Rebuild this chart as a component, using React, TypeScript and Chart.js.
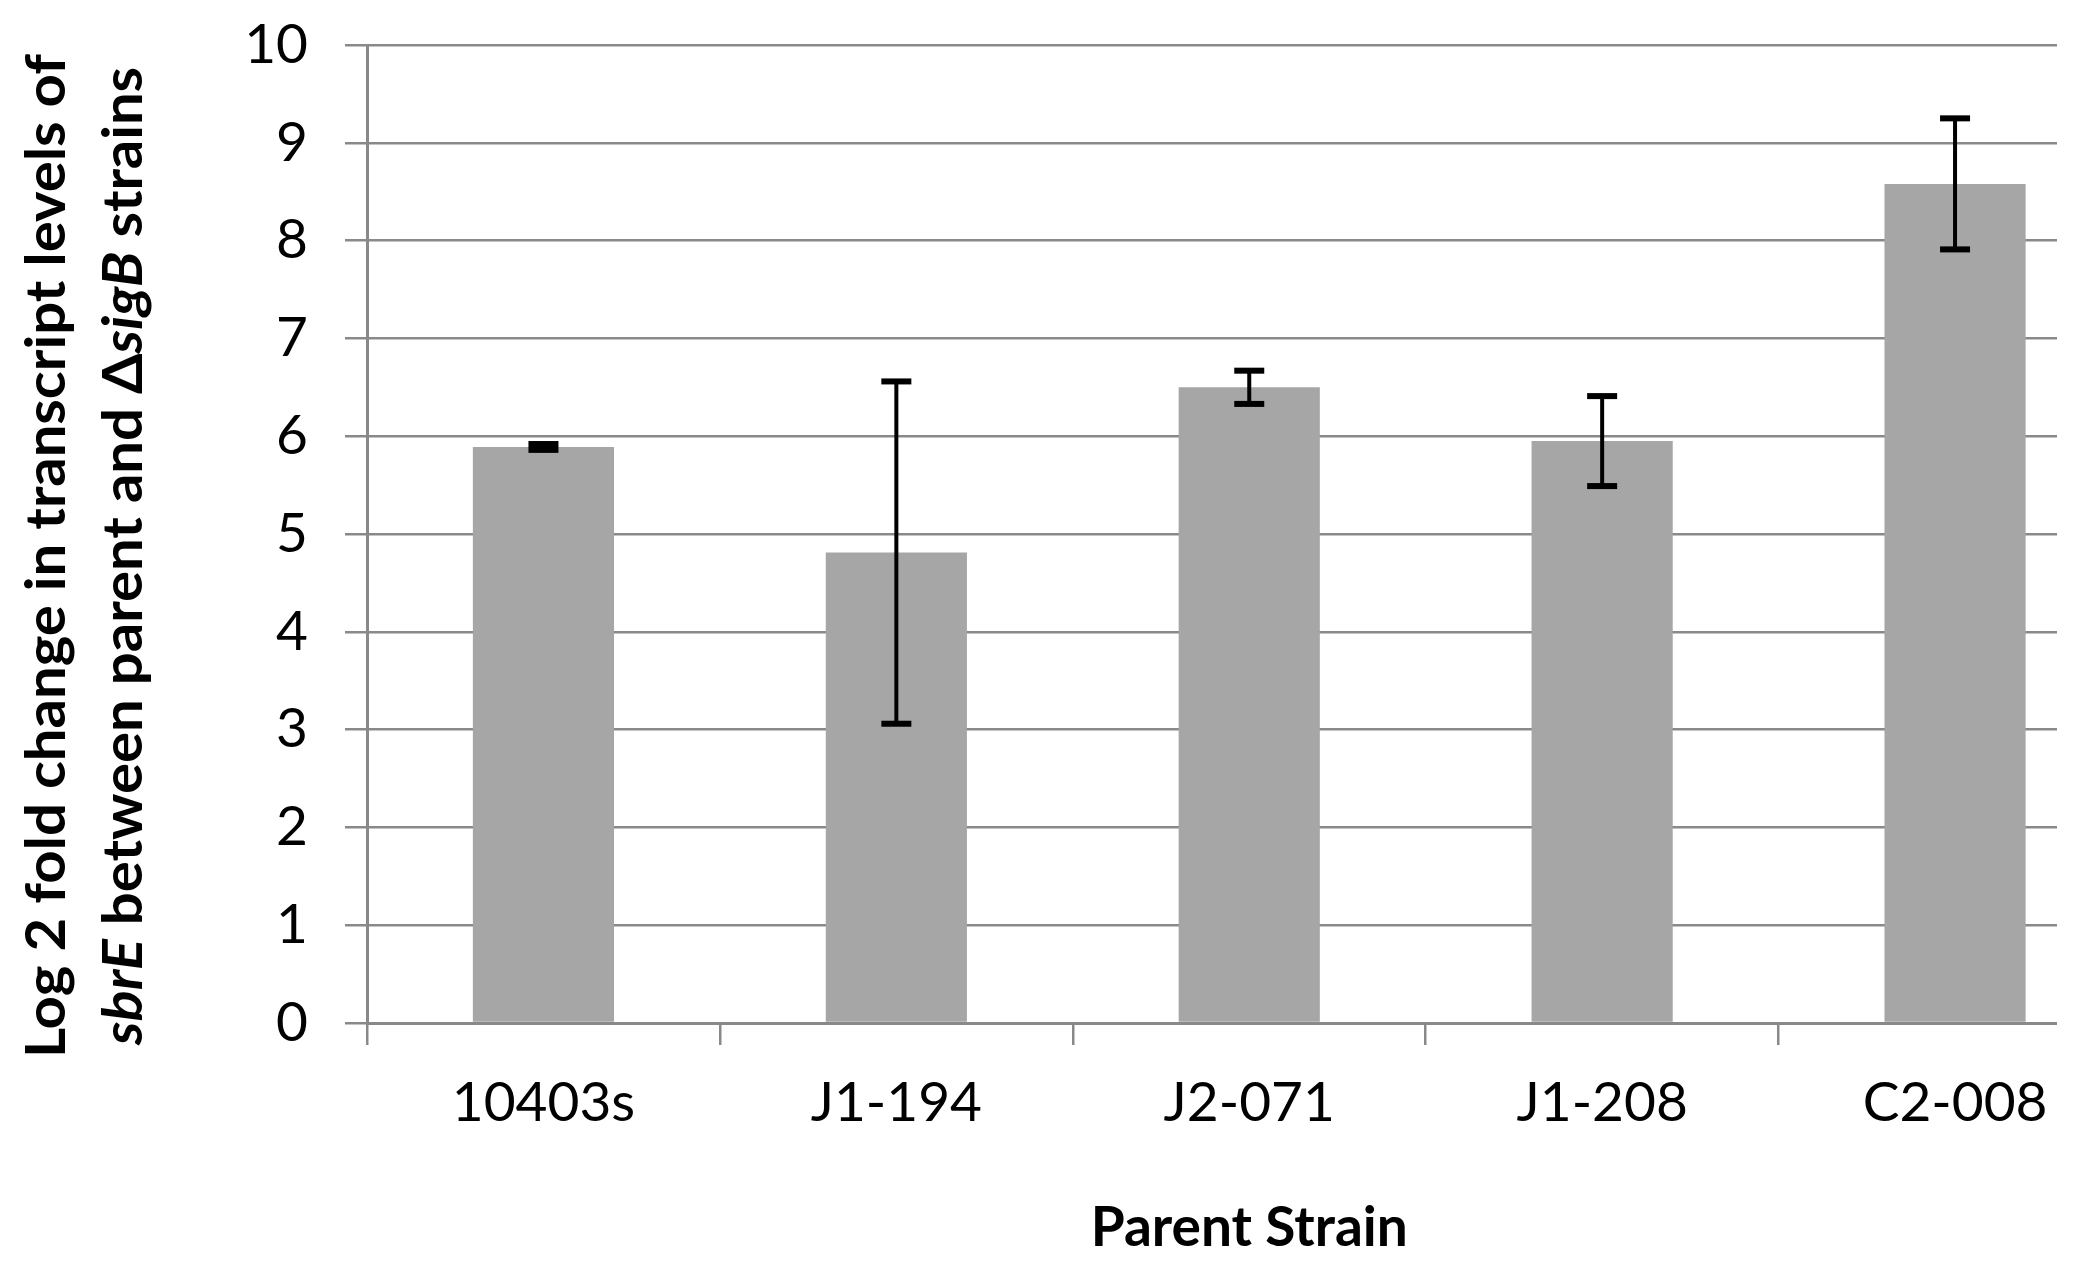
import { useEffect, useRef } from "react";
import { Chart, registerables } from "chart.js";

Chart.register(...registerables);

// ---- data ----
const strains = ["10403s", "J1-194", "J2-071", "J1-208", "C2-008"];
const log2FoldChange = [5.89, 4.81, 6.5, 5.95, 8.58];
const errorValues = [0.03, 1.75, 0.17, 0.46, 0.67];
const yAxisMin = 0;
const yAxisMax = 10;
const yAxisStep = 1;
const xAxisTitle = "Parent Strain";
const yTitleLine1 = [{ text: "Log 2 fold change in transcript levels of", italic: false }];
const yTitleLine2 = [
  { text: "sbrE", italic: true },
  { text: " between parent and \u0394", italic: false },
  { text: "sigB", italic: true },
  { text: " strains", italic: false },
];

const FONT = "Lato, 'Open Sans', 'Noto Sans', sans-serif";
const GRID = "#898989";

const errorBarPlugin = {
  id: "errorBars",
  afterDatasetsDraw(chart: any) {
    const ctx = chart.ctx;
    const meta = chart.getDatasetMeta(0);
    const y = chart.scales.y;
    ctx.save();
    ctx.strokeStyle = "#000";
    ctx.fillStyle = "#000";
    meta.data.forEach((bar: any, i: number) => {
      const v = log2FoldChange[i];
      const e = errorValues[i];
      const yTop = y.getPixelForValue(v + e);
      const yBot = y.getPixelForValue(v - e);
      const x = bar.x;
      ctx.lineWidth = 4;
      ctx.beginPath();
      ctx.moveTo(x, yTop);
      ctx.lineTo(x, yBot);
      ctx.stroke();
      ctx.fillRect(x - 15, yTop - 3, 30, 6);
      ctx.fillRect(x - 15, yBot - 3, 30, 6);
    });
    ctx.restore();
  },
};

const yTitlePlugin = {
  id: "yTitleMixed",
  afterDraw(chart: any) {
    const ctx = chart.ctx;
    const size = 55;
    const fontFor = (italic: boolean) => `${italic ? "italic " : ""}bold ${size}px ${FONT}`;
    const widthOf = (segs: { text: string; italic: boolean }[]) =>
      segs.reduce((acc, s) => {
        ctx.font = fontFor(s.italic);
        return acc + ctx.measureText(s.text).width;
      }, 0);
    ctx.save();
    const w1 = widthOf(yTitleLine1);
    const sx = 1004 / w1;
    const centerY = 556;
    const drawLine = (segs: { text: string; italic: boolean }[], baseX: number) => {
      const total = widthOf(segs);
      ctx.save();
      ctx.translate(baseX, centerY);
      ctx.rotate(-Math.PI / 2);
      ctx.scale(sx, 1);
      ctx.fillStyle = "#000";
      ctx.textBaseline = "alphabetic";
      ctx.textAlign = "left";
      let pos = -total / 2;
      segs.forEach((s) => {
        ctx.font = fontFor(s.italic);
        ctx.fillText(s.text, pos, 0);
        pos += ctx.measureText(s.text).width;
      });
      ctx.restore();
    };
    drawLine(yTitleLine1, 65);
    drawLine(yTitleLine2, 142);
    ctx.restore();
  },
};

export default function App() {
  const ref = useRef<HTMLCanvasElement | null>(null);

  useEffect(() => {
    if (!ref.current) return;
    const chart = new Chart(ref.current, {
      type: "bar",
      data: {
        labels: strains,
        datasets: [
          {
            data: log2FoldChange,
            backgroundColor: "#a6a6a6",
            borderWidth: 0,
            categoryPercentage: 1,
            barPercentage: 0.4,
          },
        ],
      },
      options: {
        responsive: false,
        animation: false,
        devicePixelRatio: 1,
        layout: { padding: { top: 45, right: 8.5, left: 0, bottom: 0 } },
        plugins: {
          legend: { display: false },
          tooltip: { enabled: false },
          title: { display: false },
        },
        scales: {
          x: {
            afterFit(scale: any) {
              scale.height = 246;
            },
            grid: {
              display: true,
              drawOnChartArea: false,
              drawTicks: true,
              tickLength: 22,
              color: GRID,
              lineWidth: 2.5,
              offset: true,
            },
            border: { display: true, color: GRID, width: 3 },
            ticks: {
              color: "#000",
              padding: 25,
              maxRotation: 0,
              font: { family: FONT, size: 55 },
            },
            title: {
              display: true,
              text: xAxisTitle,
              color: "#000",
              padding: { top: 0, bottom: 8 },
              font: { family: FONT, size: 55, weight: "bold" },
            },
          },
          y: {
            min: yAxisMin,
            max: yAxisMax,
            afterFit(scale: any) {
              scale.width = 367;
            },
            grid: {
              color: GRID,
              lineWidth: 2.5,
              drawTicks: true,
              tickLength: 22,
            },
            border: { display: true, color: GRID, width: 3 },
            ticks: {
              stepSize: yAxisStep,
              color: "#000",
              padding: 37,
              font: { family: FONT, size: 55, lineHeight: 0.25 },
            },
          },
        },
      },
      plugins: [errorBarPlugin, yTitlePlugin],
    });
    return () => chart.destroy();
  }, []);

  return (
    <div
      style={{
        position: "fixed",
        left: 0,
        top: 0,
        width: 2057,
        height: 1269,
        overflow: "hidden",
        background: "#fff",
      }}
    >
      <canvas ref={ref} width={2140} height={1269} style={{ display: "block" }} />
    </div>
  );
}
